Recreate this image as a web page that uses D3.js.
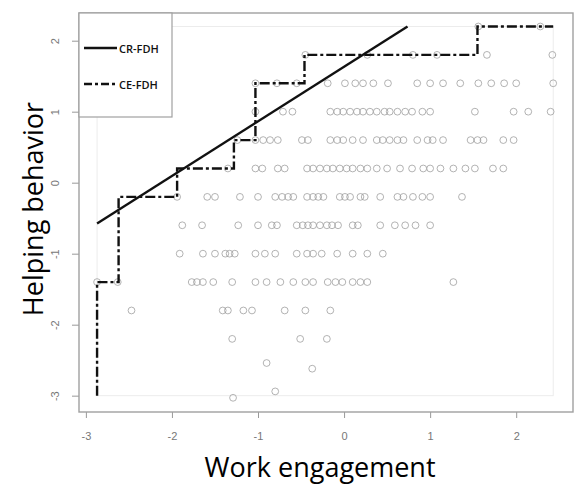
<!DOCTYPE html>
<html>
<head>
<meta charset="utf-8">
<script src="https://cdn.jsdelivr.net/npm/d3@7"></script>
<style>
    body { margin: 0; background: #fff; }
    svg { display: block; font-family: "Open Sans", "Noto Sans", sans-serif; }
</style>
</head>
<body>
<svg id="vis" width="578" height="487"></svg>
<script>
// helping behavior levels (rows) and the work engagement scores read on each row
const levels = [2.2, 1.8, 1.4, 1.0, 0.6, 0.2, -0.2, -0.6, -1.0, -1.4, -1.8, -2.2]

const xsByLevel = [
    [1.56, 2.28],
    [-0.45, 0.27, 0.80, 1.08, 1.66, 2.42],
    [-1.03, -0.78, -0.55, -0.19, 0.01, 0.13, 0.22, 0.34, 0.51, 0.85, 1.00, 1.15, 1.35, 1.56, 1.71, 1.86, 2.00, 2.43],
    [-1.03, -0.71, -0.60, -0.16, -0.08, -0.01, 0.07, 0.15, 0.22, 0.30, 0.38, 0.47, 0.53, 0.62, 0.71, 0.79, 0.91, 1.00, 1.52, 1.97, 2.14, 2.40],
    [-1.24, -1.03, -0.94, -0.86, -0.77, -0.49, -0.42, -0.16, -0.08, -0.01, 0.10, 0.22, 0.38, 0.45, 0.53, 0.62, 0.69, 0.85, 0.97, 1.03, 1.15, 1.47, 1.55, 1.62, 1.85, 1.97],
    [-1.35, -1.03, -0.95, -0.77, -0.69, -0.43, -0.36, -0.28, -0.20, -0.13, -0.05, 0.03, 0.10, 0.19, 0.27, 0.38, 0.50, 0.65, 0.79, 0.92, 1.00, 1.12, 1.27, 1.41, 1.52, 1.73, 1.85],
    [-1.94, -1.59, -1.50, -1.21, -1.00, -0.80, -0.72, -0.65, -0.59, -0.43, -0.36, -0.30, -0.24, -0.05, 0.01, 0.07, 0.19, 0.24, 0.42, 0.62, 0.69, 0.80, 0.91, 1.00, 1.37],
    [-1.88, -1.65, -1.23, -1.00, -0.84, -0.78, -0.55, -0.48, -0.42, -0.36, -0.28, -0.20, -0.14, -0.07, 0.10, 0.16, 0.42, 0.59, 0.71, 0.83, 1.00],
    [-1.91, -1.64, -1.50, -1.38, -1.33, -1.27, -1.03, -0.92, -0.80, -0.55, -0.43, -0.36, -0.26, -0.08, 0.10, 0.27, 0.45],
    [-2.87, -2.63, -1.77, -1.71, -1.64, -1.52, -1.30, -1.03, -0.90, -0.74, -0.59, -0.45, -0.36, -0.19, -0.10, -0.02, 0.10, 0.19, 0.27, 1.27],
    [-2.47, -1.41, -1.35, -1.17, -1.07, -0.69, -0.45, -0.16],
    [-1.30, -0.51, -0.20]
]

// the few low points that sit off the rows
const lowX = [-0.90, -0.37, -1.29, -0.80]
const lowY = [-2.54, -2.62, -3.03, -2.94]

// CE-FDH ceiling (step function)
const stepX = [-2.87, -2.87, -2.62, -2.62, -1.94, -1.94, -1.28, -1.28, -1.03, -1.03, -0.46, -0.46, 1.55, 1.55, 2.43]
const stepY = [-3.0, -1.4, -1.4, -0.2, -0.2, 0.2, 0.2, 0.6, 0.6, 1.4, 1.4, 1.8, 1.8, 2.2, 2.2]

// CR-FDH ceiling (straight line)
const crSlope = 0.769
const crIntercept = 1.633
const crStart = -2.87
const crTop = 2.2

const xTicks = [-3, -2, -1, 0, 1, 2]
const yTicks = [2, 1, 0, -1, -2, -3]

const legendLabels = ["CR-FDH", "CE-FDH"]

function drawChart() {
    let margin = { top: 13, right: 5, bottom: 75, left: 79 };
    let svg = d3.select("#vis");
    let width = +svg.attr("width");
    let height = +svg.attr("height");
    let plotWidth = width - margin.left - margin.right;
    let plotHeight = height - margin.top - margin.bottom;

    let xScale = d3.scaleLinear()
        .domain([-3.08, 2.66])
        .range([0, plotWidth]);

    let yScale = d3.scaleLinear()
        .domain([-3.23, 2.39])
        .range([plotHeight, 0]);

    let plot = svg.append("g")
        .attr("transform", "translate(" + margin.left + "," + margin.top + ")");

    // faint rectangle around the data extent
    plot.append("rect")
        .attr("x", xScale(-2.87))
        .attr("y", yScale(2.2))
        .attr("width", xScale(2.43) - xScale(-2.87))
        .attr("height", yScale(-3.0) - yScale(2.2))
        .attr("fill", "none")
        .attr("stroke", "#ececec")
        .attr("stroke-width", 1);

    // points
    let points = [];
    levels.forEach(function(lv, i) {
        xsByLevel[i].forEach(function(x) {
            points.push([x, lv]);
        });
    });
    lowX.forEach(function(x, i) {
        points.push([x, lowY[i]]);
    });

    plot.selectAll("circle.pt")
        .data(points)
        .enter().append("circle")
        .attr("class", "pt")
        .attr("cx", function(d) { return xScale(d[0]); })
        .attr("cy", function(d) { return yScale(d[1]); })
        .attr("r", 3.4)
        .attr("fill", "none")
        .attr("stroke", "#999")
        .attr("stroke-opacity", 0.75)
        .attr("stroke-width", 1);

    // CE-FDH
    let stepLine = d3.line()
        .x(function(d) { return xScale(d[0]); })
        .y(function(d) { return yScale(d[1]); });

    plot.append("path")
        .datum(stepX.map(function(x, i) { return [x, stepY[i]]; }))
        .attr("d", stepLine)
        .attr("fill", "none")
        .attr("stroke", "#111")
        .attr("stroke-width", 2.4)
        .attr("stroke-dasharray", "10,3,3,3");

    // CR-FDH
    let crEnd = (crTop - crIntercept) / crSlope;
    plot.append("path")
        .datum([[crStart, crIntercept + crSlope * crStart], [crEnd, crTop]])
        .attr("d", stepLine)
        .attr("fill", "none")
        .attr("stroke", "#111")
        .attr("stroke-width", 2.4);

    // axes
    let fmt = function(d) { return String(d); };
    let xAxis = d3.axisBottom(xScale).tickValues(xTicks).tickFormat(fmt).tickSize(6).tickPadding(14);
    let yAxis = d3.axisLeft(yScale).tickValues(yTicks).tickFormat(fmt).tickSize(7).tickPadding(12);

    let xGroup = plot.append("g")
        .attr("transform", "translate(0," + plotHeight + ")")
        .call(xAxis);
    xGroup.select(".domain").remove();

    let yGroup = plot.append("g").call(yAxis);
    yGroup.select(".domain").remove();

    svg.selectAll(".tick line").attr("stroke", "#999");
    svg.selectAll(".tick text")
        .attr("fill", "#777")
        .style("font-size", "11px");

    yGroup.selectAll(".tick text")
        .attr("text-anchor", "middle")
        .attr("dy", null)
        .attr("x", null)
        .attr("transform", "translate(-24,0) rotate(-90)")
        .attr("dominant-baseline", "central");

    // frame
    plot.append("rect")
        .attr("width", plotWidth)
        .attr("height", plotHeight)
        .attr("fill", "none")
        .attr("stroke", "#a0a0a0")
        .attr("stroke-width", 1.4);

    // legend
    let legend = plot.append("g");
    legend.append("rect")
        .attr("width", 93)
        .attr("height", 104)
        .attr("fill", "#fff")
        .attr("stroke", "#a0a0a0")
        .attr("stroke-width", 1.2);

    legendLabels.forEach(function(lab, i) {
        let ly = 35 + i * 36;
        legend.append("line")
            .attr("x1", 5).attr("x2", 38)
            .attr("y1", ly).attr("y2", ly)
            .attr("stroke", "#111")
            .attr("stroke-width", 2.4)
            .attr("stroke-dasharray", i == 1 ? "8,3,3,3" : null);
        legend.append("text")
            .attr("x", 40)
            .attr("y", ly)
            .attr("dominant-baseline", "central")
            .attr("fill", "#111")
            .style("font-size", "11px")
            .style("font-weight", "600")
            .text(lab);
    });

    // axis titles
    svg.append("text")
        .attr("x", margin.left + xScale(0) - 24)
        .attr("y", 477)
        .attr("text-anchor", "middle")
        .attr("fill", "#000")
        .style("font-size", "27px")
        .text("Work engagement");

    svg.append("text")
        .attr("transform", "translate(43,209) rotate(-90)")
        .attr("text-anchor", "middle")
        .attr("fill", "#000")
        .style("font-size", "27px")
        .text("Helping behavior");
}

drawChart();
</script>
</body>
</html>
